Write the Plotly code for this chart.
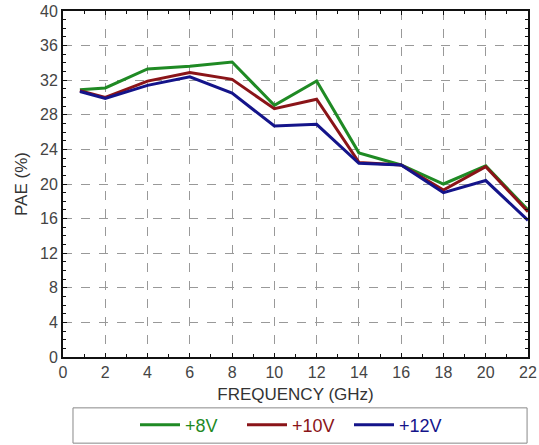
import plotly.graph_objects as go

# Frequency points (GHz)
freq = [0.8, 2, 4, 6, 8, 10, 12, 14, 16, 18, 20, 22]

# PAE (%) for each drain bias
pae_8v = [30.9, 31.1, 33.3, 33.6, 34.1, 29.1, 31.9, 23.6, 22.2, 20.0, 22.1, 17.0]
pae_10v = [30.8, 30.0, 31.9, 32.9, 32.1, 28.7, 29.8, 22.5, 22.2, 19.3, 22.0, 16.8]
pae_12v = [30.7, 29.9, 31.4, 32.4, 30.5, 26.7, 26.9, 22.4, 22.2, 19.0, 20.4, 15.8]

series_names = ["+8V", "+10V", "+12V"]
series_colors = ["#1f8a24", "#8a1418", "#14148a"]

x_ticks = list(range(0, 23, 2))
y_ticks = list(range(0, 41, 4))

fig = go.Figure()
for name, vals, col in zip(series_names, [pae_8v, pae_10v, pae_12v], series_colors):
    fig.add_trace(go.Scatter(
        x=freq, y=vals, mode="lines",
        line=dict(color=col, width=3),
        name=f'<span style="color:{col}">{name}</span>',
    ))

axis_common = dict(
    automargin=False,
    showline=True, linecolor="#111", linewidth=2, mirror="allticks",
    ticks="inside", ticklen=4, tickcolor="#111",
    showgrid=True, gridcolor="#999", griddash="dash", gridwidth=1,
    zeroline=False,
    tickfont=dict(family="Liberation Sans, Arial", size=16, color="#444"),
    title_font=dict(family="Liberation Sans, Arial", size=17, color="#333"),
    minor=dict(ticks="inside", ticklen=3, tickcolor="#111", showgrid=False),
)

fig.update_xaxes(
    range=[0, 22], tickvals=x_ticks, minor_dtick=1,
    title_text="FREQUENCY (GHz)", title_standoff=8,
    **axis_common,
)
fig.update_yaxes(
    range=[0, 40], tickvals=y_ticks, minor_dtick=1,
    title_text="PAE (%)", title_standoff=8,
    **axis_common,
)

# Frame around the legend below the plot
fig.add_shape(
    type="rect", xref="paper", yref="paper",
    x0=0.0215, x1=0.998, y0=-0.249, y1=-0.147,
    line=dict(color="#888", width=1), fillcolor="white",
)

fig.update_layout(
    width=539, height=445,
    margin=dict(l=63, r=11, t=11, b=88, autoexpand=False),
    paper_bgcolor="white", plot_bgcolor="white",
    showlegend=True,
    legend=dict(
        orientation="h", x=0.5, xanchor="center",
        yref="container", y=0.045, yanchor="middle",
        font=dict(family="Liberation Sans, Arial", size=18),
        bgcolor="rgba(0,0,0,0)", itemwidth=40,
        entrywidth=52,
    ),
)

fig.write_html("out.html")
